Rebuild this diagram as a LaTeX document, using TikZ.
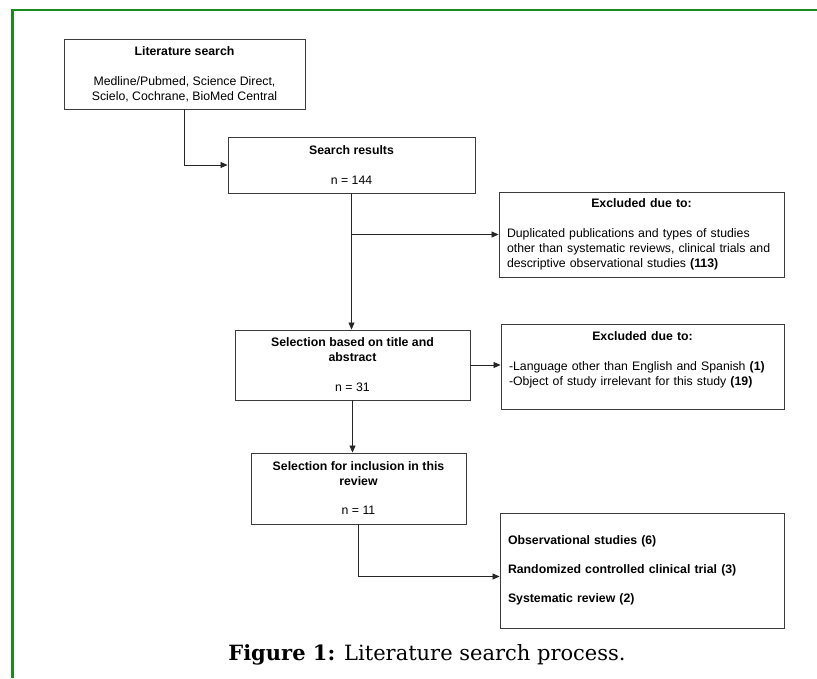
\documentclass[tikz,border=0pt]{standalone}
\usepackage{fontspec}
\newfontfamily\boxfont{Liberation Sans}
\newfontfamily\capfont{DejaVu Serif}
\usetikzlibrary{arrows.meta}
\definecolor{framegreen}{RGB}{28,138,28}
\definecolor{boxline}{RGB}{60,60,60}
\tikzset{
  box/.style={draw=boxline, line width=0.9pt, inner sep=0pt, align=center,
    font=\boxfont\fontsize{12.3}{15}\selectfont},
  exclbox/.style={box, align=left, inner xsep=8pt},
  arr/.style={draw=black!85, line width=0.8pt, -{Triangle[length=7pt,width=6pt]}}
}
\begin{document}
\begin{tikzpicture}[x=1pt,y=-1pt]
  \useasboundingbox (0,0) rectangle (817,678);
  \draw[framegreen, line width=2.5pt] (12.5,678) -- (12.5,10) -- (817,10);
  \node[box, minimum width=241, minimum height=70] (lit) at (184.5,74)
    {\textbf{Literature search}\\[15pt]Medline/Pubmed, Science Direct,\\Scielo, Cochrane, BioMed Central};
  \node[box, minimum width=247, minimum height=56] (res) at (351.5,165)
    {\textbf{Search results}\\[15pt]n = 144};
  \node[exclbox, text width=269, minimum height=85] (exc1) at (641.5,234.5)
    {\makebox[269pt]{\textbf{Excluded due to:}}\\[15pt]Duplicated publications and types of studies\\other than systematic reviews, clinical trials and\\descriptive observational studies \textbf{(113)}};
  \node[box, minimum width=235, minimum height=70] (sel1) at (352.5,365)
    {\textbf{Selection based on title and}\\\textbf{abstract}\\[15pt]n = 31};
  \node[exclbox, text width=267, minimum height=85] (exc2) at (642.5,366.5)
    {\makebox[267pt]{\textbf{Excluded due to:}}\\[15pt]-Language other than English and Spanish \textbf{(1)}\\-Object of study irrelevant for this study \textbf{(19)}\\\mbox{}};
  \node[box, minimum width=215, minimum height=71] (sel2) at (358.5,488.5)
    {\textbf{Selection for inclusion in this}\\\textbf{review}\\[14pt]n = 11};
  \node[exclbox, text width=268, minimum height=115] (exc3) at (642,570.5)
    {\textbf{Observational studies (6)}\\[14pt]\textbf{Randomized controlled clinical trial (3)}\\[14pt]\textbf{Systematic review (2)}};
  \node[font=\capfont\fontsize{21}{25}\selectfont] (cap) at (427,655)
    {\textbf{Figure 1:} Literature search process.};
  \coordinate (br1) at (res.south |- exc1.west);
  \draw[arr] (lit.south) |- (res.west);
  \draw[arr] (res.south) -- (res.south |- sel1.north);
  \draw[arr] (br1) -- (exc1.west);
  \draw[arr] (sel1.east) -- (sel1.east -| exc2.west);
  \draw[arr] (sel1.south) -- (sel1.south |- sel2.north);
  \draw[arr] (sel2.south) |- ([yshift=-6pt]exc3.west);
\end{tikzpicture}
\end{document}
